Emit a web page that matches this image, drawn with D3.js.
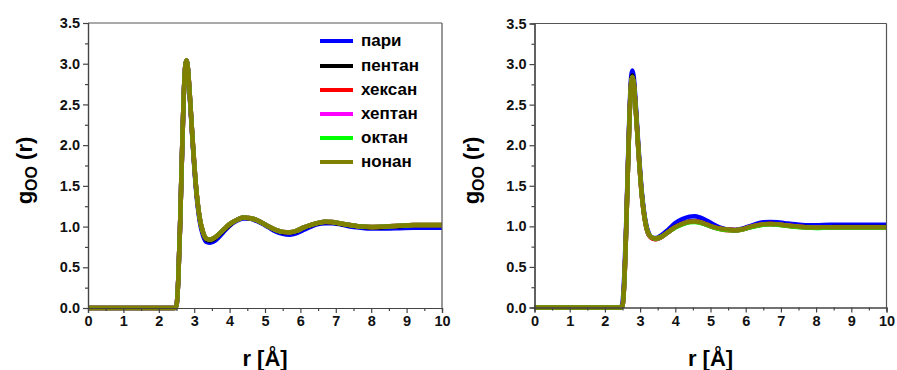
<!DOCTYPE html>
<html>
<head>
<meta charset="utf-8">
<script src="https://cdn.jsdelivr.net/npm/d3@7"></script>
<style>
  body { margin: 0; background: #fff; }
  svg { font-family: "Liberation Sans", Arial, sans-serif; font-weight: bold; }
</style>
</head>
<body>
<svg id="chart" width="897" height="370"></svg>
<script>
// shared r grid [Å]
const rValues = [0, 2.45, 2.5, 2.55, 2.6, 2.65, 2.7, 2.75, 2.78, 2.82, 2.87, 2.95, 3.05, 3.15, 3.25, 3.35, 3.45, 3.6, 3.8, 4.0, 4.2, 4.4, 4.55, 4.7, 4.9, 5.1, 5.3, 5.5, 5.7, 5.9, 6.1, 6.3, 6.5, 6.7, 6.9, 7.1, 7.4, 7.7, 8.0, 8.4, 8.8, 9.2, 9.6, 10]

const seriesNames = ['пари', 'пентан', 'хексан', 'хептан', 'октан', 'нонан']
const seriesColors = ['#0000ff', '#000000', '#ff0000', '#ff00ff', '#00ff00', '#808000']

// left panel
const leftPari    = [0, 0, 0.03, 0.35, 1.0, 1.8, 2.55, 2.97, 3.03, 2.94, 2.63, 2.07, 1.46, 1.08, 0.89, 0.81, 0.80, 0.83, 0.92, 1.01, 1.07, 1.10, 1.10, 1.08, 1.04, 0.99, 0.94, 0.91, 0.90, 0.92, 0.96, 1.0, 1.03, 1.04, 1.04, 1.03, 1.0, 0.985, 0.975, 0.975, 0.98, 0.985, 0.985, 0.985]
const leftPentan  = [0, 0, 0.03, 0.35, 1.0, 1.8, 2.55, 2.98, 3.04, 2.95, 2.65, 2.09, 1.49, 1.11, 0.92, 0.84, 0.83, 0.86, 0.94, 1.02, 1.08, 1.11, 1.10, 1.09, 1.05, 1.0, 0.955, 0.93, 0.925, 0.945, 0.985, 1.015, 1.04, 1.055, 1.05, 1.035, 1.015, 1.0, 0.99, 0.995, 1.005, 1.015, 1.015, 1.015]
const leftHeksan  = [0, 0, 0.03, 0.35, 1.0, 1.8, 2.55, 2.98, 3.04, 2.95, 2.65, 2.1, 1.5, 1.12, 0.93, 0.85, 0.84, 0.87, 0.95, 1.03, 1.08, 1.11, 1.105, 1.09, 1.05, 1.0, 0.96, 0.935, 0.93, 0.95, 0.99, 1.02, 1.045, 1.06, 1.055, 1.04, 1.02, 1.0, 0.995, 1.0, 1.01, 1.02, 1.02, 1.02]
const leftHeptan  = [0, 0, 0.03, 0.35, 1.0, 1.8, 2.55, 2.98, 3.04, 2.95, 2.65, 2.1, 1.5, 1.12, 0.93, 0.85, 0.84, 0.87, 0.95, 1.03, 1.08, 1.11, 1.105, 1.09, 1.05, 1.0, 0.96, 0.935, 0.93, 0.95, 0.99, 1.02, 1.045, 1.06, 1.055, 1.04, 1.02, 1.0, 0.995, 1.0, 1.01, 1.02, 1.02, 1.02]
const leftOktan   = [0, 0, 0.03, 0.35, 1.0, 1.8, 2.55, 2.98, 3.04, 2.95, 2.65, 2.1, 1.5, 1.12, 0.93, 0.85, 0.84, 0.87, 0.95, 1.03, 1.08, 1.11, 1.105, 1.09, 1.05, 1.0, 0.96, 0.935, 0.93, 0.95, 0.99, 1.02, 1.045, 1.06, 1.055, 1.04, 1.02, 1.0, 0.995, 1.0, 1.01, 1.02, 1.02, 1.02]
const leftNonan   = [0, 0, 0.03, 0.35, 1.0, 1.8, 2.55, 2.98, 3.04, 2.95, 2.65, 2.1, 1.5, 1.12, 0.93, 0.85, 0.84, 0.87, 0.95, 1.03, 1.08, 1.11, 1.105, 1.09, 1.05, 1.0, 0.96, 0.935, 0.93, 0.95, 0.99, 1.02, 1.045, 1.06, 1.055, 1.04, 1.02, 1.0, 0.995, 1.0, 1.01, 1.02, 1.02, 1.02]

// right panel
const rightPari   = [0, 0, 0.06, 0.4, 0.97, 1.72, 2.43, 2.86, 2.92, 2.84, 2.55, 2.0, 1.42, 1.07, 0.91, 0.86, 0.855, 0.89, 0.96, 1.04, 1.09, 1.12, 1.125, 1.11, 1.07, 1.02, 0.98, 0.96, 0.955, 0.97, 1.0, 1.03, 1.05, 1.055, 1.05, 1.04, 1.025, 1.015, 1.015, 1.02, 1.02, 1.02, 1.02, 1.02]
const rightPentan = [0, 0, 0.02, 0.3, 0.9, 1.66, 2.37, 2.8, 2.86, 2.78, 2.5, 1.96, 1.39, 1.05, 0.895, 0.855, 0.845, 0.87, 0.935, 0.995, 1.035, 1.06, 1.065, 1.055, 1.025, 0.99, 0.97, 0.958, 0.953, 0.965, 0.99, 1.012, 1.027, 1.032, 1.027, 1.017, 1.002, 0.992, 0.987, 0.99, 0.992, 0.992, 0.992, 0.992]
const rightHeksan = [0, 0, 0.02, 0.3, 0.9, 1.65, 2.35, 2.78, 2.84, 2.76, 2.48, 1.94, 1.37, 1.04, 0.89, 0.85, 0.84, 0.865, 0.93, 0.99, 1.03, 1.055, 1.06, 1.05, 1.02, 0.985, 0.965, 0.953, 0.95, 0.96, 0.985, 1.008, 1.022, 1.028, 1.024, 1.013, 0.998, 0.988, 0.984, 0.988, 0.988, 0.988, 0.988, 0.988]
const rightHeptan = [0, 0, 0.02, 0.3, 0.9, 1.65, 2.35, 2.78, 2.84, 2.76, 2.48, 1.95, 1.38, 1.05, 0.9, 0.86, 0.85, 0.87, 0.93, 0.99, 1.03, 1.055, 1.06, 1.05, 1.02, 0.99, 0.97, 0.96, 0.955, 0.965, 0.99, 1.01, 1.025, 1.03, 1.025, 1.015, 1.0, 0.99, 0.985, 0.99, 0.99, 0.99, 0.99, 0.99]
const rightOktan  = [0, 0, 0.02, 0.3, 0.9, 1.65, 2.35, 2.78, 2.84, 2.76, 2.48, 1.95, 1.38, 1.05, 0.9, 0.86, 0.85, 0.87, 0.93, 0.985, 1.025, 1.05, 1.055, 1.045, 1.015, 0.985, 0.965, 0.955, 0.952, 0.962, 0.985, 1.005, 1.02, 1.025, 1.02, 1.01, 0.995, 0.985, 0.98, 0.985, 0.985, 0.985, 0.985, 0.985]
const rightNonan  = [0, 0, 0.02, 0.3, 0.9, 1.65, 2.35, 2.78, 2.84, 2.76, 2.48, 1.95, 1.38, 1.05, 0.9, 0.86, 0.85, 0.87, 0.93, 0.99, 1.03, 1.055, 1.06, 1.05, 1.02, 0.99, 0.97, 0.96, 0.955, 0.965, 0.99, 1.01, 1.025, 1.03, 1.025, 1.015, 1.0, 0.99, 0.985, 0.99, 0.99, 0.99, 0.99, 0.99]

const xMajorTicks = [0, 1, 2, 3, 4, 5, 6, 7, 8, 9, 10]
const yMajorTicks = [0, 0.5, 1.0, 1.5, 2.0, 2.5, 3.0, 3.5]

const svg = d3.select('#chart')

/**
 * Draws one g(r) panel with its axes, frame and titles.
 *
 * @param {object} box Pixel box of the plot area
 * @param {number[][]} series The six g(r) series
 * @returns {object} the panel group
 */
function drawPanel (box, series) {
  const x = d3.scaleLinear().domain([0, 10]).range([box.left, box.right])
  const y = d3.scaleLinear().domain([0, 3.5]).range([box.bottom, box.top])
  const g = svg.append('g')

  const line = d3.line()
    .x((d, i) => x(rValues[i]))
    .y(d => y(d))
    .curve(d3.curveMonotoneX)

  g.selectAll('path.curve')
    .data(series)
    .enter()
    .append('path')
    .attr('class', 'curve')
    .attr('d', d => line(d))
    .attr('fill', 'none')
    .attr('stroke', (d, i) => seriesColors[i])
    .attr('stroke-width', 4.5)
    .attr('stroke-linejoin', 'round')

  // frame top + right
  g.append('line').attr('x1', box.left).attr('x2', box.right).attr('y1', box.top).attr('y2', box.top)
    .attr('stroke', '#555').attr('stroke-width', 1.2)
  g.append('line').attr('x1', box.right).attr('x2', box.right).attr('y1', box.top).attr('y2', box.bottom)
    .attr('stroke', '#555').attr('stroke-width', 1.2)

  // minor ticks
  g.append('g')
    .attr('transform', 'translate(0,' + box.bottom + ')')
    .call(d3.axisBottom(x).tickValues(d3.range(0.5, 10, 1)).tickSize(3).tickFormat(''))
  g.append('g')
    .attr('transform', 'translate(' + box.left + ',0)')
    .call(d3.axisLeft(y).tickValues(d3.range(0.25, 3.5, 0.5)).tickSize(3).tickFormat(''))

  // major ticks + labels
  g.append('g')
    .attr('class', 'axis')
    .attr('transform', 'translate(0,' + box.bottom + ')')
    .call(d3.axisBottom(x).tickValues(xMajorTicks).tickSize(5).tickPadding(3).tickFormat(d3.format('d')))
  g.append('g')
    .attr('class', 'axis')
    .attr('transform', 'translate(' + box.left + ',0)')
    .call(d3.axisLeft(y).tickValues(yMajorTicks).tickSize(5).tickPadding(3).tickFormat(d3.format('.1f')))

  g.selectAll('.domain').attr('stroke', '#444').attr('stroke-width', 1.2)
  g.selectAll('.tick line').attr('stroke', '#444').attr('stroke-width', 1.2)
  g.selectAll('.axis text')
    .style('font-family', '"Liberation Sans", Arial, sans-serif')
    .style('font-weight', 'bold')
    .style('font-size', '14.5px')
    .attr('fill', '#111')

  // titles
  g.append('text')
    .attr('x', (box.left + box.right) / 2)
    .attr('y', 366)
    .attr('text-anchor', 'middle')
    .style('font-size', '22px')
    .text('r [Å]')

  const yt = g.append('text')
    .attr('transform', 'translate(' + (box.left - 56) + ',' + ((box.top + box.bottom) / 2 + 5) + ') rotate(-90)')
    .attr('text-anchor', 'middle')
    .style('font-size', '22px')
  yt.append('tspan').text('g')
  yt.append('tspan').attr('dy', 5).style('font-size', '16px').text('OO')
  yt.append('tspan').attr('dy', -5).text(' (r)')

  return g
}

drawPanel({ left: 88, right: 442, top: 23, bottom: 308 },
  [leftPari, leftPentan, leftHeksan, leftHeptan, leftOktan, leftNonan])
drawPanel({ left: 534.5, right: 886.5, top: 23.5, bottom: 307.5 },
  [rightPari, rightPentan, rightHeksan, rightHeptan, rightOktan, rightNonan])

// legend (left panel)
const legendY = [41, 66, 90, 114, 138, 162]
const legend = svg.append('g')
legend.selectAll('line')
  .data(seriesNames)
  .enter()
  .append('line')
  .attr('x1', 320).attr('x2', 353)
  .attr('y1', (d, i) => legendY[i]).attr('y2', (d, i) => legendY[i])
  .attr('stroke', (d, i) => seriesColors[i])
  .attr('stroke-width', 4)
legend.selectAll('text')
  .data(seriesNames)
  .enter()
  .append('text')
  .attr('x', 361)
  .attr('y', (d, i) => legendY[i] + 5)
  .style('font-size', '17px')
  .attr('fill', '#000')
  .text(d => d)
</script>
</body>
</html>
